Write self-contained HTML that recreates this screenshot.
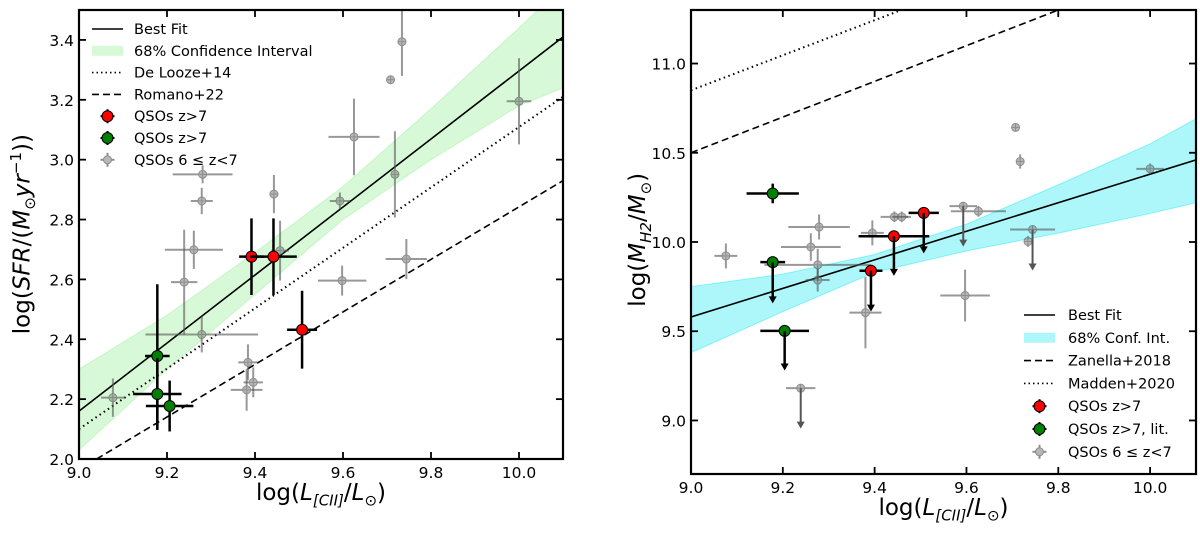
<!DOCTYPE html>
<html><head><meta charset="utf-8"><style>
html,body{margin:0;padding:0;background:#fff;}
svg{display:block;font-family:"DejaVu Sans","Liberation Sans",sans-serif;}
</style></head><body>
<svg id="fig" width="1200" height="537" viewBox="0 0 1200 537"></svg>
<script>
// ---------- LEFT PANEL DATA ----------
const L_xTicks=[9.0,9.2,9.4,9.6,9.8,10.0];
const L_xTickLabels=["9.0","9.2","9.4","9.6","9.8","10.0"];
const L_yTicks=[2.0,2.2,2.4,2.6,2.8,3.0,3.2,3.4];
const L_yTickLabels=["2.0","2.2","2.4","2.6","2.8","3.0","3.2","3.4"];
const L_fitX=[9.0,10.1], L_fitY=[2.16,3.41];
const L_delX=[9.0,10.1], L_delY=[2.10,3.21];
const L_romX=[9.04,10.1], L_romY=[2.0,2.93];
const L_bandX=[9.0,9.2,9.4,9.6,9.8,10.0,10.1];
const L_bandLo=[2.03,2.30,2.55,2.80,3.00,3.18,3.24];
const L_bandHi=[2.30,2.48,2.69,2.91,3.17,3.44,3.58];
const L_grayX=[9.077,9.239,9.261,9.279,9.281,9.279,9.384,9.381,9.396,9.443,9.457,9.598,9.593,9.625,9.718,9.744,9.708,9.734,10.0];
const L_grayY=[2.205,2.591,2.699,2.416,2.951,2.862,2.323,2.231,2.256,2.885,2.696,2.596,2.862,3.076,2.951,2.668,3.267,3.394,3.195];
const L_grayXe=[0.027,0.03,0.066,0.128,0.068,0.025,0.022,0.036,0.022,0.01,0.02,0.055,0.023,0.058,0.005,0.047,0,0,0.028];
const L_grayYe=[0.064,0.175,0.064,0.06,0.03,0.044,0.06,0.07,0.05,0.064,0.1,0.05,0.028,0.128,0.144,0.067,0,0.114,0.144];
const L_redX=[9.392,9.442,9.507], L_redY=[2.676,2.676,2.432];
const L_redXe=[0.028,0.053,0.034], L_redYe=[0.128,0.128,0.13];
const L_grnX=[9.178,9.178,9.206], L_grnY=[2.344,2.217,2.177];
const L_grnXe=[0.028,0.055,0.054], L_grnYe=[0.24,0.12,0.085];

// ---------- RIGHT PANEL DATA ----------
const R_xTicks=[9.0,9.2,9.4,9.6,9.8,10.0];
const R_xTickLabels=["9.0","9.2","9.4","9.6","9.8","10.0"];
const R_yTicks=[9.0,9.5,10.0,10.5,11.0];
const R_yTickLabels=["9.0","9.5","10.0","10.5","11.0"];
const R_fitX=[9.0,10.1], R_fitY=[9.58,10.46];
const R_zanX=[9.0,10.1], R_zanY=[10.5,11.6];
const R_madX=[9.0,10.1], R_madY=[10.85,11.93];
const R_bandX=[9.0,9.2,9.4,9.6,9.8,10.0,10.1];
const R_bandLo=[9.38,9.61,9.83,9.95,10.05,10.16,10.22];
const R_bandHi=[9.75,9.82,9.93,10.10,10.32,10.55,10.69];
const R_grayX=[9.076,9.261,9.279,9.276,9.276,9.380,9.395,9.443,9.459,9.593,9.626,9.597,9.744,9.734,9.707,9.717,10.0,9.239];
const R_grayY=[9.922,9.972,10.084,9.872,9.787,9.604,10.051,10.141,10.141,10.201,10.172,9.70,10.07,10.003,10.642,10.451,10.41,9.181];
const R_grayXe=[0.025,0.065,0.067,0.116,0.026,0.035,0.025,0.03,0.02,0.03,0.06,0.054,0.049,0,0,0,0.03,0.032];
const R_grayYe=[0.07,0.077,0.07,0.09,0.065,0.2,0.07,0.03,0.03,0,0.03,0.145,0,0.03,0,0.04,0.03,0];
const R_grayLim=[0,0,0,0,0,0,0,0,0,9.974,0,0,9.84,0,0,0,0,8.954];
const R_redX=[9.392,9.442,9.507], R_redY=[9.839,10.032,10.163];
const R_redXe=[0.025,0.077,0.033], R_redLim=[9.61,9.81,9.936];
const R_grnX=[9.178,9.178,9.204], R_grnY=[10.272,9.887,9.502];
const R_grnXe=[0.057,0.027,0.053], R_grnYe=[0.055,0,0], R_grnLim=[0,9.656,9.28];

const NS="http://www.w3.org/2000/svg";
const svg=document.getElementById('fig');
function mk(tag,attrs,parent){const e=document.createElementNS(NS,tag);for(const k in attrs)e.setAttribute(k,attrs[k]);(parent||svg).appendChild(e);return e;}

function panel(cfg){
  const g=mk('g',{});
  
  
  const sx=v=>cfg.x0+(v-cfg.xmin)/(cfg.xmax-cfg.xmin)*(cfg.x1-cfg.x0);
  const sy=v=>cfg.y0-(v-cfg.ymin)/(cfg.ymax-cfg.ymin)*(cfg.y0-cfg.y1);
  const cid='clip'+cfg.name;
  const defs=mk('defs',{},g);
  const cp=mk('clipPath',{id:cid},defs);
  mk('rect',{x:cfg.x0,y:cfg.y1,width:cfg.x1-cfg.x0,height:cfg.y0-cfg.y1},cp);
  const pl=mk('g',{'clip-path':'url(#'+cid+')'},g);
  
  
  let d='';
  cfg.bandX.forEach((x,i)=>{d+=(i?'L':'M')+sx(x)+' '+sy(cfg.bandHi[i]);});
  for(let i=cfg.bandX.length-1;i>=0;i--)d+='L'+sx(cfg.bandX[i])+' '+sy(cfg.bandLo[i]);
  const band=mk('path',{d:d+'Z',fill:cfg.bandColor,'fill-opacity':cfg.bandOp,stroke:cfg.bandColor,'stroke-opacity':0.4,'stroke-width':1},pl);
  
  
  cfg.lines.forEach(ln=>{
    const l=mk('line',{x1:sx(ln.x[0]),y1:sy(ln.y[0]),x2:sx(ln.x[1]),y2:sy(ln.y[1]),stroke:'#000','stroke-width':ln.w||1.6,'stroke-dasharray':ln.dash||'none'},pl);
    
    
  });
  function arrow(x,yfrom,yto,col,w){
    const a=mk('g',{},pl);
    
    
    const X=sx(x),Y0=sy(yfrom),Y1=sy(yto);
    mk('line',{x1:X,y1:Y0,x2:X,y2:Y1-4,stroke:col,'stroke-width':w},a);
    mk('path',{d:`M${X-4} ${Y1-7}L${X+4} ${Y1-7}L${X} ${Y1}Z`,fill:col},a);
  }
  function points(s){
    s.x.forEach((xv,i)=>{
      const p=mk('g',{opacity:s.op},pl);
      
      
      const X=sx(xv),Y=sy(s.y[i]);
      if(s.xe[i])mk('line',{x1:sx(xv-s.xe[i]),y1:Y,x2:sx(xv+s.xe[i]),y2:Y,stroke:s.ecol,'stroke-width':s.ew},p);
      if(s.ye&&s.ye[i])mk('line',{x1:X,y1:sy(s.y[i]-s.ye[i]),x2:X,y2:sy(s.y[i]+s.ye[i]),stroke:s.ecol,'stroke-width':s.ew},p);
      if(s.lim&&s.lim[i])arrow(xv,s.y[i],s.lim[i],s.ecol,s.ew);
      mk('circle',{cx:X,cy:Y,r:s.r,fill:s.fill,stroke:s.edge,'stroke-width':1},p);
      if(s.cross){mk('line',{x1:X-s.r,y1:Y,x2:X+s.r,y2:Y,stroke:s.edge,'stroke-width':1},p);mk('line',{x1:X,y1:Y-s.r,x2:X,y2:Y+s.r,stroke:s.edge,'stroke-width':1},p);}
    });
  }
  cfg.series.forEach(points);
  const fr=mk('rect',{x:cfg.x0,y:cfg.y1,width:cfg.x1-cfg.x0,height:cfg.y0-cfg.y1,fill:'none',stroke:'#000','stroke-width':2.2},g);
  
  
  const xa=mk('g',{},g);
  
  
  cfg.xTicks.forEach((t,i)=>{
    const X=sx(t);
    mk('line',{x1:X,y1:cfg.y0,x2:X,y2:cfg.y0-7,stroke:'#000','stroke-width':1.8},xa);
    mk('line',{x1:X,y1:cfg.y1,x2:X,y2:cfg.y1+7,stroke:'#000','stroke-width':1.8},xa);
    const tx=mk('text',{x:X,y:cfg.y0+19,'font-size':15.5,'text-anchor':'middle'},xa);
    tx.textContent=cfg.xTickLabels[i];
    
    
  });
  const ya=mk('g',{},g);
  
  
  cfg.yTicks.forEach((t,i)=>{
    const Y=sy(t);
    mk('line',{x1:cfg.x0,y1:Y,x2:cfg.x0+7,y2:Y,stroke:'#000','stroke-width':1.8},ya);
    mk('line',{x1:cfg.x1,y1:Y,x2:cfg.x1-7,y2:Y,stroke:'#000','stroke-width':1.8},ya);
    const tx=mk('text',{x:cfg.x0-5,y:Y+6,'font-size':15.5,'text-anchor':'end'},ya);
    tx.textContent=cfg.yTickLabels[i];
    
    
  });
  const lg=mk('g',{},g);
  
  
  cfg.legend.forEach((e,i)=>{
    const Y=cfg.legY+i*cfg.legDy, hx=cfg.legX, hw=31;
    const it=mk('g',{},lg);
    
    
    if(e.t==='line')mk('line',{x1:hx,y1:Y,x2:hx+hw,y2:Y,stroke:'#000','stroke-width':1.6,'stroke-dasharray':e.dash||'none'},it);
    else if(e.t==='band')mk('rect',{x:hx,y:Y-5,width:hw,height:10,fill:e.c,'fill-opacity':e.op},it);
    else{const cx=hx+hw/2,g2=mk('g',{opacity:e.op||1},it);
      mk('line',{x1:cx-7,y1:Y,x2:cx+7,y2:Y,stroke:e.ec,'stroke-width':2},g2);
      mk('line',{x1:cx,y1:Y-7,x2:cx,y2:Y+7,stroke:e.ec,'stroke-width':2},g2);
      mk('circle',{cx:cx,cy:Y,r:e.r,fill:e.c,stroke:e.ec,'stroke-width':1},g2);}
    const tx=mk('text',{x:cfg.legTx,y:Y+5,'font-size':14.5},it);
    tx.textContent=e.label;
  });
  return {sx,sy};
}

const red={fill:'#ff0000',edge:'#000',ecol:'#000',ew:2.5,r:5.5,op:1};
const grn={fill:'#008000',edge:'#000',ecol:'#000',ew:2.5,r:5.5,op:1};
const gry={fill:'#888',edge:'#444',ecol:'#555',ew:2,r:4,op:0.6,cross:true};

panel({name:'left-panel',x0:79,x1:563,y0:459,y1:10,xmin:9.0,xmax:10.1,ymin:2.0,ymax:3.5,
  xTicks:L_xTicks,xTickLabels:L_xTickLabels,yTicks:L_yTicks,yTickLabels:L_yTickLabels,
  bandX:L_bandX,bandLo:L_bandLo,bandHi:L_bandHi,bandColor:'#90ee90',bandOp:0.35,
  lines:[{name:'best-fit-line',x:L_fitX,y:L_fitY},{name:'de-looze-line',x:L_delX,y:L_delY,dash:'1.5 3.5',w:2},{name:'romano-line',x:L_romX,y:L_romY,dash:'7 4'}],
  series:[Object.assign({name:'qso-6-7-point',x:L_grayX,y:L_grayY,xe:L_grayXe,ye:L_grayYe},gry),
          Object.assign({name:'qso-z7-point',x:L_redX,y:L_redY,xe:L_redXe,ye:L_redYe},red),
          Object.assign({name:'qso-z7-green-point',x:L_grnX,y:L_grnY,xe:L_grnXe,ye:L_grnYe},grn)],
  legX:92,legTx:134,legY:29,legDy:21.8,
  legend:[{t:'line',label:'Best Fit'},{t:'band',c:'#90ee90',op:0.35,label:'68% Confidence Interval'},{t:'line',dash:'1.5 3',label:'De Looze+14'},{t:'line',dash:'7 4',label:'Romano+22'},
    {t:'pt',c:'#ff0000',ec:'#000',r:5.5,label:'QSOs z>7'},{t:'pt',c:'#008000',ec:'#000',r:5.5,label:'QSOs z>7'},{t:'pt',c:'#888',ec:'#444',r:4,op:0.6,label:'QSOs 6 \u2264 z<7'}]
});

panel({name:'right-panel',x0:691,x1:1196,y0:474,y1:10,xmin:9.0,xmax:10.1,ymin:8.7,ymax:11.3,
  xTicks:R_xTicks,xTickLabels:R_xTickLabels,yTicks:R_yTicks,yTickLabels:R_yTickLabels,
  bandX:R_bandX,bandLo:R_bandLo,bandHi:R_bandHi,bandColor:'#00e5f0',bandOp:0.32,
  lines:[{name:'best-fit-line',x:R_fitX,y:R_fitY},{name:'zanella-line',x:R_zanX,y:R_zanY,dash:'7 4'},{name:'madden-line',x:R_madX,y:R_madY,dash:'1.5 3.5',w:2}],
  series:[Object.assign({name:'qso-6-7-point',x:R_grayX,y:R_grayY,xe:R_grayXe,ye:R_grayYe,lim:R_grayLim},gry),
          Object.assign({name:'qso-z7-point',x:R_redX,y:R_redY,xe:R_redXe,lim:R_redLim},red),
          Object.assign({name:'qso-z7-lit-point',x:R_grnX,y:R_grnY,xe:R_grnXe,ye:R_grnYe,lim:R_grnLim},grn)],
  legX:1024,legTx:1068,legY:315,legDy:22.8,
  legend:[{t:'line',label:'Best Fit'},{t:'band',c:'#00e5f0',op:0.32,label:'68% Conf. Int.'},{t:'line',dash:'7 4',label:'Zanella+2018'},{t:'line',dash:'1.5 3',label:'Madden+2020'},
    {t:'pt',c:'#ff0000',ec:'#000',r:5.5,label:'QSOs z>7'},{t:'pt',c:'#008000',ec:'#000',r:5.5,label:'QSOs z>7, lit.'},{t:'pt',c:'#888',ec:'#444',r:4,op:0.6,label:'QSOs 6 \u2264 z<7'}]
});
</script>
<div style="position:absolute;left:0;top:0;width:1200px;height:537px;pointer-events:none;font-family:'DejaVu Sans','Liberation Sans',sans-serif;">
  <div style="position:absolute;left:79px;width:484px;top:480px;text-align:center;font-size:23px;">log(<i>L</i><sub style="font-size:15px"><i>[CII]</i></sub>/<i>L</i><sub style="font-size:15px">⊙</sub>)</div>
  <div style="position:absolute;left:691px;width:505px;top:495px;text-align:center;font-size:23px;">log(<i>L</i><sub style="font-size:15px"><i>[CII]</i></sub>/<i>L</i><sub style="font-size:15px">⊙</sub>)</div>
  <div style="position:absolute;left:-177px;top:218px;width:400px;text-align:center;font-size:23px;transform:rotate(-90deg);">log(<i>SFR</i>/(<i>M</i><sub style="font-size:15px">⊙</sub><i>yr</i><sup style="font-size:15px">−1</sup>))</div>
  <div style="position:absolute;left:440px;top:225px;width:400px;text-align:center;font-size:23px;transform:rotate(-90deg);">log(<i>M</i><sub style="font-size:15px"><i>H2</i></sub>/<i>M</i><sub style="font-size:15px">⊙</sub>)</div>
</div>
</body></html>
